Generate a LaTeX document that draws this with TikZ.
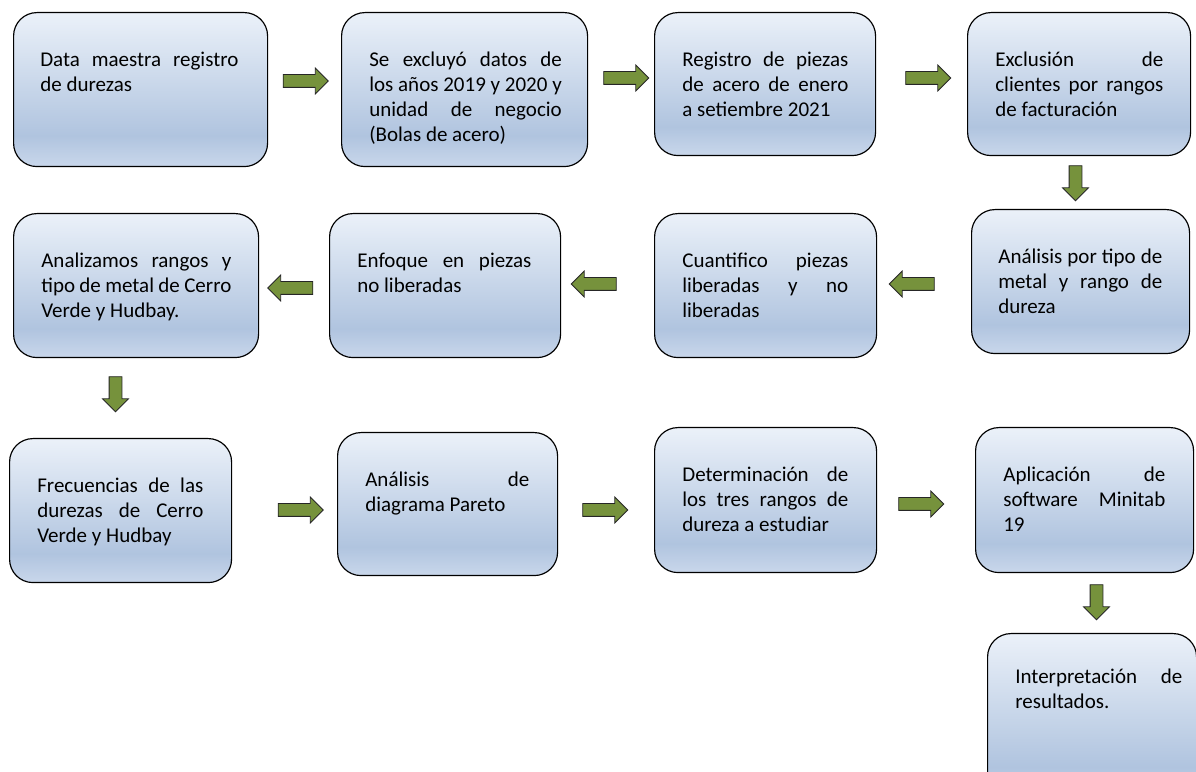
\documentclass[tikz,border=0pt]{standalone}
\usepackage{fontspec}
\setmainfont{Carlito}
\usetikzlibrary{shapes.arrows}

\definecolor{bxtop}{HTML}{EBF1F9}
\definecolor{bxmid}{HTML}{B0C4DF}
\definecolor{bxbot}{HTML}{C9D7EB}
\definecolor{arrowgreen}{HTML}{76923C}

\pgfdeclareverticalshading{boxfill}{100bp}{color(0bp)=(bxbot); color(25bp)=(bxbot); color(35bp)=(bxmid); color(75bp)=(bxtop); color(100bp)=(bxtop)}

\hyphenpenalty=10000
\exhyphenpenalty=10000
\tolerance=10000
\newcommand\boxstrut{\vrule height 12pt depth 0pt width 0pt\relax}

\tikzset{
  proc/.style 2 args={draw=black, line width=0.7pt, rounded corners=14pt, shading=boxfill,
    anchor=north west, inner sep=0pt, minimum width=#1*0.6pt, minimum height=#2*0.6pt},
  proctext/.style={anchor=north west, inner sep=0pt, text width=#1, align=justify,
    font=\fontsize{12.6}{15}\selectfont},
  flow/.style={single arrow, draw=black!85, fill=arrowgreen, line width=0.5pt,
    inner xsep=0pt, inner ysep=3.6pt, minimum height=27pt, single arrow head extend=3.9pt},
  flowdown/.style={flow, minimum height=21pt, rotate=-90},
  flowleft/.style={flow, rotate=180},
}

\begin{document}
\begin{tikzpicture}[x=0.6pt,y=-0.6pt]
  \clip (0,0) rectangle (1196,772);

  % fila 1
  \node[proc={254}{154}] (b1) at (13,12)  {};
  \node[proc={246}{154}] (b2) at (341,12) {};
  \node[proc={221}{143}] (b3) at (654,12) {};
  \node[proc={223}{143}] (b4) at (967,12) {};
  % fila 2
  \node[proc={218}{144}] (b5) at (971,209) {};
  \node[proc={222}{144}] (b6) at (654,213) {};
  \node[proc={231}{144}] (b7) at (329,213) {};
  \node[proc={245}{144}] (b8) at (13,213)  {};
  % fila 3
  \node[proc={222}{144}] (b9)  at (9,438)   {};
  \node[proc={220}{143}] (b10) at (337,432) {};
  \node[proc={222}{145}] (b11) at (654,427) {};
  \node[proc={218}{145}] (b12) at (975,427) {};
  \node[proc={209}{167}] (b13) at (987,633) {};

  % textos
  \node[proctext=118.8pt] (t1) at ([shift={(27,34)}]b1.north west)
    {\boxstrut Data maestra registro\linebreak de durezas};
  \node[proctext=115.5pt] (t2) at ([shift={(28,34)}]b2.north west)
    {\boxstrut Se excluyó datos de\linebreak los años 2019 y 2020 y\linebreak unidad de negocio\linebreak (Bolas de acero)};
  \node[proctext=99.6pt] (t3) at ([shift={(28,34)}]b3.north west)
    {\boxstrut Registro de piezas\linebreak de acero de enero\linebreak a setiembre 2021};
  \node[proctext=100.8pt] (t4) at ([shift={(28,34)}]b4.north west)
    {\boxstrut Exclusión de\linebreak clientes por rangos\linebreak de facturación};
  \node[proctext=98.4pt] (t5) at ([shift={(27,34)}]b5.north west)
    {\boxstrut Análisis por tipo de\linebreak metal y rango de\linebreak dureza};
  \node[proctext=99.6pt] (t6) at ([shift={(28,34)}]b6.north west)
    {\boxstrut Cuantifico piezas\linebreak liberadas y no\linebreak liberadas};
  \node[proctext=104.4pt] (t7) at ([shift={(28,34)}]b7.north west)
    {\boxstrut Enfoque en piezas\linebreak no liberadas};
  \node[proctext=114pt] (t8) at ([shift={(28,34)}]b8.north west)
    {\boxstrut Analizamos rangos y\linebreak tipo de metal de Cerro\linebreak Verde y Hudbay.};
  \node[proctext=99.6pt] (t9) at ([shift={(28,34)}]b9.north west)
    {\boxstrut Frecuencias de las\linebreak durezas de Cerro\linebreak Verde y Hudbay};
  \node[proctext=98.4pt] (t10) at ([shift={(28,34)}]b10.north west)
    {\boxstrut Análisis de\linebreak diagrama Pareto};
  \node[proctext=99.6pt] (t11) at ([shift={(28,34)}]b11.north west)
    {\boxstrut Determinación de\linebreak los tres rangos de\linebreak dureza a estudiar};
  \node[proctext=97.2pt] (t12) at ([shift={(28,34)}]b12.north west)
    {\boxstrut Aplicación de\linebreak software Minitab\linebreak 19};
  \node[proctext=100.2pt] (t13) at ([shift={(28,30)}]b13.north west)
    {\boxstrut Interpretación de\linebreak resultados.};

  % flechas
  \node[flow]      (a1)  at (302.5,81) {};
  \node[flow]      (a2)  at (623,78)   {};
  \node[flow]      (a3)  at (925,78)   {};
  \node[flowdown]  (a4)  at (1075.5,180) {};
  \node[flowleft]  (a5)  at (915,284)  {};
  \node[flowleft]  (a6)  at (597,284)  {};
  \node[flowleft]  (a7)  at (293.5,288) {};
  \node[flowdown]  (a8)  at (115.5,391) {};
  \node[flow]      (a9)  at (297.5,510) {};
  \node[flow]      (a10) at (602,510)  {};
  \node[flow]      (a11) at (918,504)  {};
  \node[flowdown]  (a12) at (1096.5,599) {};

\end{tikzpicture}
\end{document}
